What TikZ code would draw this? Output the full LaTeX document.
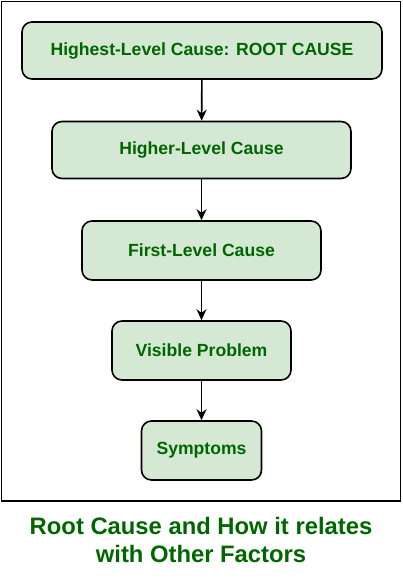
\documentclass[tikz,border=0pt]{standalone}
\usepackage{fontspec}
\setmainfont{Liberation Sans}
\usetikzlibrary{arrows.meta}
\definecolor{boxfill}{HTML}{D5E8D4}
\definecolor{txtgreen}{HTML}{006600}
\begin{document}
\begin{tikzpicture}[x=1pt,y=-1pt,
  cbox/.style={draw=black, line width=1.6pt, fill=boxfill, rounded corners=10pt, text=txtgreen, font=\fontsize{17.6}{20}\selectfont\bfseries},
  conn/.style={-{Stealth[length=11pt,width=10pt]}, line width=1.6pt}]
\useasboundingbox (0,0) rectangle (402,586);
\draw[line width=1.6pt] (1.5,1.5) rectangle (400.5,501);
\node[cbox, minimum width=360pt, minimum height=57pt] (a) at (202,50.5) {Highest-Level Cause: ROOT CAUSE};
\node[cbox, minimum width=299pt, minimum height=57pt] (b) at (201.5,150) {Higher-Level Cause};
\node[cbox, minimum width=239pt, minimum height=59pt] (c) at (201.5,250.5) {First-Level Cause};
\node[cbox, minimum width=179pt, minimum height=59pt] (d) at (201.5,350.5) {Visible Problem};
\node[cbox, minimum width=120pt, minimum height=59pt] (e) at (201.5,450.5) {Symptoms};
\draw[conn] (a) -- (b);
\draw[conn] (b) -- (c);
\draw[conn] (c) -- (d);
\draw[conn] (d) -- (e);
\node[text=txtgreen, font=\fontsize{23.8}{28}\selectfont\bfseries, align=center] (cap) at (201,540) {Root Cause and How it relates\\with Other Factors};
\end{tikzpicture}
\end{document}
